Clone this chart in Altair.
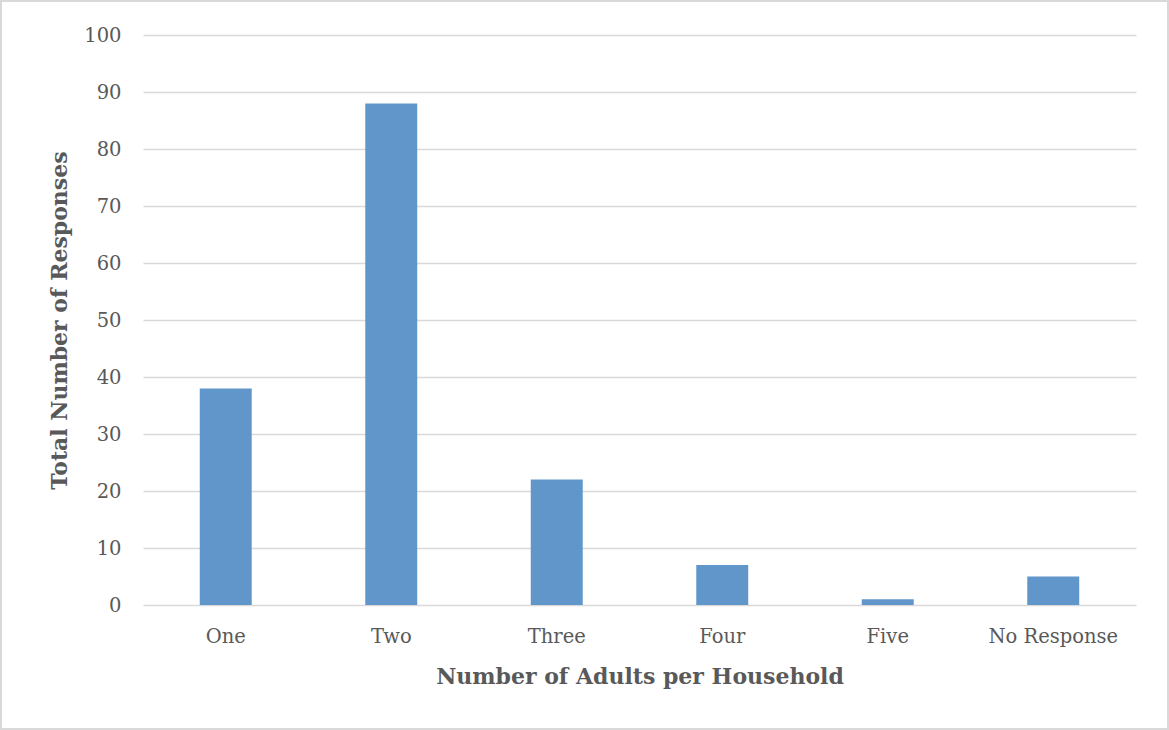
import altair as alt
import pandas as pd

# Survey responses: adults per household
categories = ["One", "Two", "Three", "Four", "Five", "No Response"]
responses = [38, 88, 22, 7, 1, 5]

df = pd.DataFrame({"category": categories, "responses": responses})

FONT = "DejaVu Serif"
TEXT = "#595959"
GRID = "#d9d9d9"

bars = alt.Chart(df).mark_bar(color="#6096c9").encode(
    x=alt.X(
        "category:N",
        sort=categories,
        scale=alt.Scale(paddingInner=0.686, paddingOuter=0.343),
        axis=alt.Axis(
            title="Number of Adults per Household",
            labelAngle=0,
            labelFont=FONT,
            labelFontSize=19.5,
            labelColor=TEXT,
            labelPadding=22,
            titleFont=FONT,
            titleFontSize=22,
            titleFontWeight="bold",
            titleColor=TEXT,
            titlePadding=21,
            ticks=False,
            domain=False,
            grid=False,
        ),
    ),
    y=alt.Y(
        "responses:Q",
        scale=alt.Scale(domain=[0, 100], nice=False),
        axis=alt.Axis(
            title="Total Number of Responses",
            values=list(range(0, 101, 10)),
            labelFont=FONT,
            labelFontSize=19.5,
            labelColor=TEXT,
            labelPadding=22,
            titleFont=FONT,
            titleFontSize=22,
            titleFontWeight="bold",
            titleColor=TEXT,
            titlePadding=12,
            ticks=False,
            domain=False,
            gridColor=GRID,
            gridWidth=1.5,
        ),
    ),
)

# Light frame around the whole chart area
frame = alt.Chart(df).mark_rect(fill=None, stroke=GRID, strokeWidth=2).encode(
    x=alt.value(-142), x2=alt.value(1025), y=alt.value(-34), y2=alt.value(694)
)

chart = (
    alt.layer(bars, frame)
    .properties(
        width=993,
        height=570,
        autosize=alt.AutoSizeParams(type="none"),
        padding={"left": 143, "top": 35, "right": 33, "bottom": 125},
        background="white",
    )
    .configure_view(stroke=None)
)

chart.save("out.html", embed_options={"renderer": "svg", "actions": False})
